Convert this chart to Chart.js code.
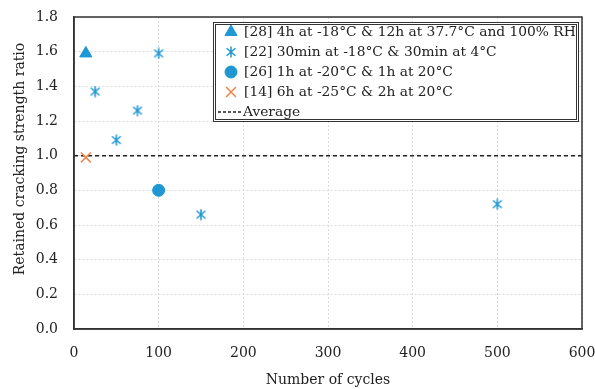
<!DOCTYPE html>
<html>
<head>
<meta charset="utf-8">
<script src="https://cdn.jsdelivr.net/npm/chart.js@4/dist/chart.umd.min.js"></script>
<style>
html,body{margin:0;padding:0;background:#fff;}
#wrap{width:595px;height:389px;position:relative;}
</style>
</head>
<body>
<div id="wrap"><canvas id="c" width="595" height="389"></canvas></div>
<script>
// ---- data ----
const seriesLabels = [
  "[28] 4h at -18°C & 12h at 37.7°C and 100% RH",
  "[22] 30min at -18°C & 30min at 4°C",
  "[26] 1h at -20°C & 1h at 20°C",
  "[14] 6h at -25°C & 2h at 20°C",
  "Average"
];
const s28_x = [14];
const s28_y = [1.59];
const s22_x = [25, 50, 75, 100, 150, 500];
const s22_y = [1.37, 1.09, 1.26, 1.59, 0.66, 0.72];
const s26_x = [100];
const s26_y = [0.80];
const s14_x = [14];
const s14_y = [0.99];
const avg_x = [0, 600];
const avg_y = [1.0, 1.0];
const xTicks = [0, 100, 200, 300, 400, 500, 600];
const yTicks = [0, 0.2, 0.4, 0.6, 0.8, 1.0, 1.2, 1.4, 1.6, 1.8];
const xTitle = 'Number of cycles';
const yTitle = 'Retained cracking strength ratio';

const BLUE = '#1E97D4';
const ORANGE = '#EE8447';
const TXT = '#222';
const SERIF = '"DejaVu Serif", "Liberation Serif", serif';

function pts(xs, ys){ return xs.map((x,i)=>({x:x, y:ys[i]})); }

// asterisk marker (X plus vertical bar)
function makeAsterisk(size, color){
  const c = document.createElement('canvas');
  c.width = size; c.height = size;
  const g = c.getContext('2d');
  g.strokeStyle = color; g.lineWidth = 1.5;
  const m = size/2, r = size/2 - 0.5;
  g.beginPath();
  g.moveTo(m, m - r); g.lineTo(m, m + r);
  const d = r*0.8;
  g.moveTo(m - d, m - d*0.85); g.lineTo(m + d, m + d*0.85);
  g.moveTo(m - d, m + d*0.85); g.lineTo(m + d, m - d*0.85);
  g.stroke();
  return c;
}
const asterisk = makeAsterisk(12, BLUE);

const frame = {
  id: 'frame',
  afterDatasetsDraw(chart){
    const {ctx, chartArea:a} = chart;
    ctx.save();
    ctx.strokeStyle = '#333';
    ctx.lineWidth = 1.5;
    ctx.strokeRect(a.left, a.top, a.right - a.left, a.bottom - a.top);
    // y axis title
    ctx.fillStyle = TXT;
    ctx.font = '14px ' + SERIF;
    ctx.textAlign = 'center';
    ctx.textBaseline = 'middle';
    ctx.translate(20, 159);
    ctx.rotate(-Math.PI/2);
    ctx.fillText(yTitle, 0, 0);
    ctx.restore();
  }
};

const legendBox = {
  id: 'legendBox',
  afterDraw(chart){
    const {ctx, chartArea:a} = chart;
    const right = a.right - 4, top = a.top + 5;
    const left = 213, bottom = top + 99;
    ctx.save();
    ctx.fillStyle = '#fff';
    ctx.fillRect(left, top, right - left, bottom - top);
    ctx.strokeStyle = '#333';
    ctx.lineWidth = 1;
    ctx.strokeRect(left + 0.5, top + 0.5, right - left, bottom - top);
    ctx.strokeRect(left + 2.5, top + 2.5, right - left - 4, bottom - top - 4);
    ctx.font = '13.8px ' + SERIF;
    ctx.textBaseline = 'middle';
    ctx.fillStyle = TXT;
    const rowH = 20;
    chart.data.datasets.forEach((ds, i) => {
      const y = top + 10 + rowH*i;
      const mx = 231;
      if (ds.label === 'Average') {
        ctx.save();
        ctx.strokeStyle = TXT; ctx.lineWidth = 1.5;
        ctx.setLineDash([3,2]);
        ctx.beginPath(); ctx.moveTo(218, y); ctx.lineTo(242, y); ctx.stroke();
        ctx.restore();
        ctx.fillStyle = TXT;
        ctx.fillText(ds.label, 243, y);
      } else {
        ctx.save();
        ctx.fillStyle = ds.backgroundColor; ctx.strokeStyle = ds.borderColor;
        ctx.lineWidth = ds.borderWidth || 1;
        Chart.helpers.drawPoint(ctx, {pointStyle: ds.pointStyle, radius: ds.pointRadius, borderWidth: ds.borderWidth || 1, rotation: 0}, mx, y);
        ctx.restore();
        ctx.fillStyle = TXT;
        ctx.fillText(ds.label, 244, y);
      }
    });
    ctx.restore();
  }
};

new Chart(document.getElementById('c'), {
  type: 'scatter',
  data: {
    datasets: [
      {label: seriesLabels[0], data: pts(s28_x, s28_y), pointStyle: 'triangle', pointRadius: 7,
       backgroundColor: BLUE, borderColor: BLUE, borderWidth: 1},
      {label: seriesLabels[1], data: pts(s22_x, s22_y), pointStyle: asterisk, pointRadius: 6,
       backgroundColor: BLUE, borderColor: BLUE, borderWidth: 1},
      {label: seriesLabels[2], data: pts(s26_x, s26_y), pointStyle: 'circle', pointRadius: 6,
       backgroundColor: BLUE, borderColor: BLUE, borderWidth: 1},
      {label: seriesLabels[3], data: pts(s14_x, s14_y), pointStyle: 'crossRot', pointRadius: 7,
       backgroundColor: ORANGE, borderColor: ORANGE, borderWidth: 1.5},
      {label: seriesLabels[4], type: 'line', data: pts(avg_x, avg_y), showLine: true,
       borderColor: TXT, borderWidth: 1.5, borderDash: [4,3], pointRadius: 0, fill: false}
    ]
  },
  options: {
    responsive: false,
    animation: false,
    devicePixelRatio: 1,
    layout: {padding: {left: 0, right: 13, top: 17, bottom: 0}},
    plugins: {legend: {display: false}, tooltip: {enabled: false}},
    scales: {
      x: {
        type: 'linear', min: 0, max: 600,
        afterBuildTicks: s => { s.ticks = xTicks.map(v => ({value: v})); },
        afterFit: s => { s.height = 60; s.paddingLeft = 0; s.paddingRight = 0; },
        grid: {color: '#dadada', lineWidth: 1, drawTicks: false},
        border: {display: true, color: '#333', width: 1.5, dash: [2,2]},
        ticks: {color: TXT, font: {family: SERIF, size: 14}, padding: 16},
        title: {display: true, text: xTitle, color: TXT, font: {family: SERIF, size: 14}, padding: {top: 2, bottom: 0}}
      },
      y: {
        type: 'linear', min: 0, max: 1.8,
        afterBuildTicks: s => { s.ticks = yTicks.map(v => ({value: v})); },
        afterFit: s => { s.width = 74; s.paddingTop = 0; s.paddingBottom = 0; },
        grid: {color: '#dadada', lineWidth: 1, drawTicks: false},
        border: {display: true, color: '#333', width: 1.5, dash: [2,2]},
        ticks: {color: TXT, font: {family: SERIF, size: 14}, padding: 16, callback: v => Number(v).toFixed(1)},
        title: {display: false}
      }
    }
  },
  plugins: [frame, legendBox]
});
</script>
</body>
</html>
